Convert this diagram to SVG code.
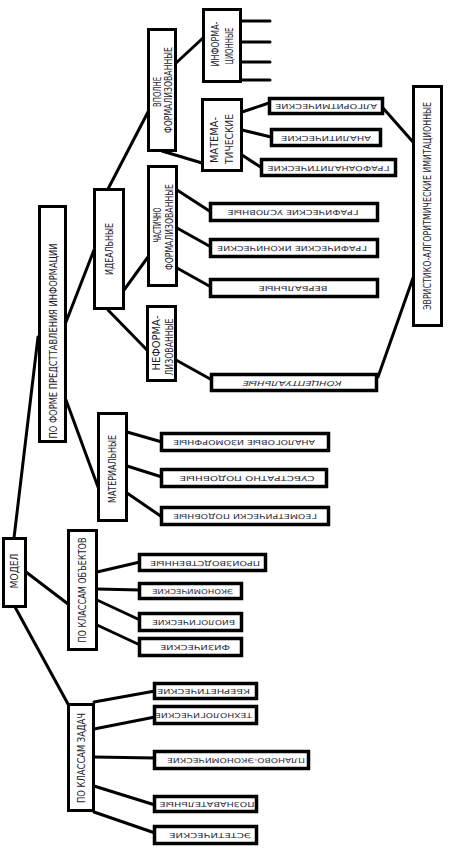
<svg xmlns="http://www.w3.org/2000/svg" width="449" height="857" viewBox="0 0 449 857">
<style>
rect{fill:#fff;stroke:#000;stroke-width:3}
.leaf rect{stroke-width:3.5}
#connectors line{stroke:#000;stroke-width:3;stroke-linecap:round}
text{font-family:"DejaVu Sans Condensed","Liberation Sans Narrow","Liberation Sans",sans-serif;fill:#1c1c30;text-anchor:middle;dominant-baseline:central}
.m{font-size:10px}
.l{font-family:"DejaVu Sans","Liberation Sans",sans-serif;font-size:7px;fill:#2a2a3a}
</style>
<rect x="0" y="0" width="449" height="857" style="stroke:none"/>
<g id="connectors">
<line x1="14" y1="538" x2="38" y2="337"/>
<line x1="26" y1="572" x2="68" y2="604"/>
<line x1="15" y1="607" x2="68" y2="704"/>
<line x1="66" y1="322" x2="94" y2="250"/>
<line x1="66" y1="400" x2="98" y2="487"/>
<line x1="108" y1="189" x2="148" y2="112"/>
<line x1="124" y1="290" x2="148" y2="257"/>
<line x1="108" y1="310" x2="147" y2="350"/>
<line x1="176" y1="63" x2="203" y2="38"/>
<line x1="162" y1="151" x2="202" y2="163"/>
<line x1="242" y1="21" x2="270" y2="21"/>
<line x1="242" y1="42" x2="270" y2="42"/>
<line x1="242" y1="62" x2="270" y2="62"/>
<line x1="242" y1="80" x2="270" y2="80"/>
<line x1="242" y1="112" x2="269" y2="103"/>
<line x1="242" y1="130" x2="271" y2="137"/>
<line x1="242" y1="155" x2="262" y2="168"/>
<line x1="383" y1="108" x2="413" y2="142"/>
<line x1="177" y1="190" x2="211" y2="212"/>
<line x1="177" y1="228" x2="211" y2="247"/>
<line x1="177" y1="268" x2="211" y2="287"/>
<line x1="176" y1="360" x2="212" y2="380"/>
<line x1="378" y1="377" x2="413" y2="278"/>
<line x1="127" y1="432" x2="162" y2="442"/>
<line x1="127" y1="466" x2="162" y2="477"/>
<line x1="127" y1="493" x2="162" y2="517"/>
<line x1="97" y1="572" x2="140" y2="562"/>
<line x1="97" y1="589" x2="140" y2="590"/>
<line x1="97" y1="600" x2="140" y2="620"/>
<line x1="97" y1="625" x2="140" y2="645"/>
<line x1="94" y1="702" x2="155" y2="691"/>
<line x1="94" y1="729" x2="155" y2="717"/>
<line x1="94" y1="757" x2="155" y2="758"/>
<line x1="94" y1="786" x2="155" y2="805"/>
<line x1="94" y1="812" x2="155" y2="833"/>
</g>

<g id="model"><rect x="3.5" y="538.5" width="22" height="68"/><text class="m" transform="translate(14.5,571) rotate(-90)" textLength="35" lengthAdjust="spacingAndGlyphs">МОДЕЛ</text></g>
<g id="po-forme"><rect x="39.5" y="206.5" width="26" height="235"/><text class="m" transform="translate(53,341) rotate(-90)" textLength="195" lengthAdjust="spacingAndGlyphs">ПО ФОРМЕ ПРЕДСТТАВЛЕНИЯ ИНФОРМАЦИИ</text></g>
<g id="idealnye"><rect x="94.5" y="189.5" width="29" height="119"/><text class="m" transform="translate(109,249) rotate(-90)" textLength="52" lengthAdjust="spacingAndGlyphs">ИДЕАЛЬНЫЕ</text></g>
<g id="materialnye"><rect x="98.5" y="413.5" width="28" height="107"/><text class="m" transform="translate(112.5,469) rotate(-90)" textLength="68" lengthAdjust="spacingAndGlyphs">МАТЕРИАЛЬНЫЕ</text></g>
<g id="po-klassam-obektov"><rect x="68.5" y="530.5" width="28" height="119"/><text class="m" transform="translate(82.5,590) rotate(-90)" textLength="105" lengthAdjust="spacingAndGlyphs">ПО КЛАССАМ ОБЪЕКТОВ</text></g>
<g id="po-klassam-zadach"><rect x="68.5" y="704.5" width="25" height="106"/><text class="m" transform="translate(81,758) rotate(-90)" textLength="90" lengthAdjust="spacingAndGlyphs">ПО КЛАССАМ ЗАДАЧ</text></g>
<g id="vpolne"><rect x="148.5" y="29.5" width="27" height="121"/><text class="m" transform="translate(157,92) rotate(-90)" textLength="30" lengthAdjust="spacingAndGlyphs">ВПОЛНЕ</text><text class="m" transform="translate(168,90) rotate(-90)" textLength="86" lengthAdjust="spacingAndGlyphs">ФОРМАЛИЗОВАННЫЕ</text></g>
<g id="informacionnye"><rect x="203.5" y="9.5" width="37" height="72"/><text class="m" transform="translate(215,44) rotate(-90)" textLength="45" lengthAdjust="spacingAndGlyphs">ИНФОРМА-</text><text class="m" transform="translate(229,46) rotate(-90)" textLength="37" lengthAdjust="spacingAndGlyphs">ЦИОННЫЕ</text></g>
<g id="matematicheskie"><rect x="202.5" y="99.5" width="39" height="71"/><text class="m" transform="translate(214,140) rotate(-90)" textLength="46" lengthAdjust="spacingAndGlyphs">МАТЕМА-</text><text class="m" transform="translate(229,139) rotate(-90)" textLength="50" lengthAdjust="spacingAndGlyphs">ТИЧЕСКИЕ</text></g>
<g id="chastichno"><rect x="148.5" y="166.5" width="28" height="119"/><text class="m" transform="translate(157,225) rotate(-90)" textLength="35" lengthAdjust="spacingAndGlyphs">ЧАСТИЧНО</text><text class="m" transform="translate(169,227) rotate(-90)" textLength="86" lengthAdjust="spacingAndGlyphs">ФОРМАЛИЗОВАННЫЕ</text></g>
<g id="neformalizovannye"><rect x="147.5" y="306.5" width="28" height="74"/><text class="m" transform="translate(156,343) rotate(-90)" textLength="55" lengthAdjust="spacingAndGlyphs">НЕФОРМА-</text><text class="m" transform="translate(169,347) rotate(-90)" textLength="57" lengthAdjust="spacingAndGlyphs">ЛИЗОВАННЫЕ</text></g>
<g id="evristiko"><rect x="413.5" y="86.5" width="28" height="239"/><text class="m" transform="translate(427.5,206) rotate(-90)" textLength="208" lengthAdjust="spacingAndGlyphs">ЭВРИСТИКО-АЛГОРИТМИЧЕСКИЕ ИМИТАЦИОННЫЕ</text></g>

<g id="algoritmicheskie" class="leaf"><rect x="269.5" y="98.5" width="113" height="15"/><text class="l" transform="translate(326,106) rotate(180)" textLength="102" lengthAdjust="spacingAndGlyphs">АЛГОРИТМИЧЕСКИЕ</text></g>
<g id="analiticheskie" class="leaf"><rect x="271.5" y="129.5" width="109" height="16"/><text class="l" transform="translate(326,137.5) rotate(180)" textLength="90" lengthAdjust="spacingAndGlyphs">АНАЛИТИЧЕСКИЕ</text></g>
<g id="grafoanaliticheskie" class="leaf"><rect x="261.5" y="159.5" width="134" height="16"/><text class="l" transform="translate(328.5,167.5) rotate(180)" textLength="122" lengthAdjust="spacingAndGlyphs">ГРАФОАНАЛИТИЧЕСКИЕ</text></g>
<g id="graf-uslovnye" class="leaf"><rect x="210.5" y="203.5" width="167" height="17"/><text class="l" transform="translate(293,212) rotate(180)" textLength="131" lengthAdjust="spacingAndGlyphs">ГРАФИЧЕСКИЕ УСЛОВНЫЕ</text></g>
<g id="graf-ikonicheskie" class="leaf"><rect x="210.5" y="239.5" width="167" height="17"/><text class="l" transform="translate(292,248) rotate(180)" textLength="150" lengthAdjust="spacingAndGlyphs">ГРАФИЧЕСКИЕ ИКОНИЧЕСКИЕ</text></g>
<g id="verbalnye" class="leaf"><rect x="210.5" y="279.5" width="167" height="17"/><text class="l" transform="translate(293,288) rotate(180)" textLength="69" lengthAdjust="spacingAndGlyphs">ВЕРБАЛЬНЫЕ</text></g>
<g id="konceptualnye" class="leaf"><rect x="211.5" y="374.5" width="165" height="16"/><text class="l" style="font-style:italic" transform="translate(292,383) rotate(180)" textLength="99" lengthAdjust="spacingAndGlyphs">КОНЦЕПТУАЛЬНЫЕ</text></g>
<g id="analogovye" class="leaf"><rect x="161.5" y="433.5" width="167" height="17"/><text class="l" transform="translate(244,442) rotate(180)" textLength="142" lengthAdjust="spacingAndGlyphs">АНАЛОГОВЫЕ ИЗОМОРФНЫЕ</text></g>
<g id="substratno" class="leaf"><rect x="161.5" y="469.5" width="165" height="17"/><text class="l" transform="translate(247,478) rotate(180)" textLength="135" lengthAdjust="spacingAndGlyphs">СУБСТРАТНО ПОДОБНЫЕ</text></g>
<g id="geometricheski" class="leaf"><rect x="161.5" y="507.5" width="167" height="17"/><text class="l" transform="translate(245,516) rotate(180)" textLength="144" lengthAdjust="spacingAndGlyphs">ГЕОМЕТРИЧЕСКИ ПОДОБНЫЕ</text></g>
<g id="proizvodstvennye" class="leaf"><rect x="139.5" y="554.5" width="126" height="16"/><text class="l" transform="translate(205,562.5) rotate(180)" textLength="110" lengthAdjust="spacingAndGlyphs">ПРОИЗВОДСТВЕННЫЕ</text></g>
<g id="ekonomicheskie" class="leaf"><rect x="139.5" y="583.5" width="102" height="15"/><text class="l" transform="translate(192.5,591) rotate(180)" textLength="81" lengthAdjust="spacingAndGlyphs">ЭКОНОМИЧЕСКИЕ</text></g>
<g id="biologicheskie" class="leaf"><rect x="139.5" y="613.5" width="102" height="17"/><text class="l" transform="translate(193.5,622) rotate(180)" textLength="83" lengthAdjust="spacingAndGlyphs">БИОЛОГИЧЕСКИЕ</text></g>
<g id="fizicheskie" class="leaf"><rect x="139.5" y="638.5" width="102" height="17"/><text class="l" transform="translate(195,647) rotate(180)" textLength="70" lengthAdjust="spacingAndGlyphs">ФИЗИЧЕСКИЕ</text></g>
<g id="kiberneticheskie" class="leaf"><rect x="154.5" y="683.5" width="102" height="15"/><text class="l" transform="translate(203.5,691) rotate(180)" textLength="93" lengthAdjust="spacingAndGlyphs">КБЕРНЕТИЧЕСКИЕ</text></g>
<g id="tehnologicheskie" class="leaf"><rect x="154.5" y="706.5" width="102" height="17"/><text class="l" transform="translate(203.5,715) rotate(180)" textLength="97" lengthAdjust="spacingAndGlyphs">ТЕХНОЛОГИЧЕСКИЕ</text></g>
<g id="planovo" class="leaf"><rect x="154.5" y="751.5" width="154" height="17"/><text class="l" transform="translate(236,760) rotate(180)" textLength="138" lengthAdjust="spacingAndGlyphs">ПЛАНОВО-ЭКОНОМИЧЕСКИЕ</text></g>
<g id="poznavatelnye" class="leaf"><rect x="154.5" y="796.5" width="102" height="15"/><text class="l" transform="translate(207,804) rotate(180)" textLength="95" lengthAdjust="spacingAndGlyphs">ПОЗНАВАТЕЛЬНЫЕ</text></g>
<g id="esteticheskie" class="leaf"><rect x="154.5" y="826.5" width="102" height="17"/><text class="l" transform="translate(210,835) rotate(180)" textLength="82" lengthAdjust="spacingAndGlyphs">ЭСТЕТИЧЕСКИЕ</text></g>
</svg>
